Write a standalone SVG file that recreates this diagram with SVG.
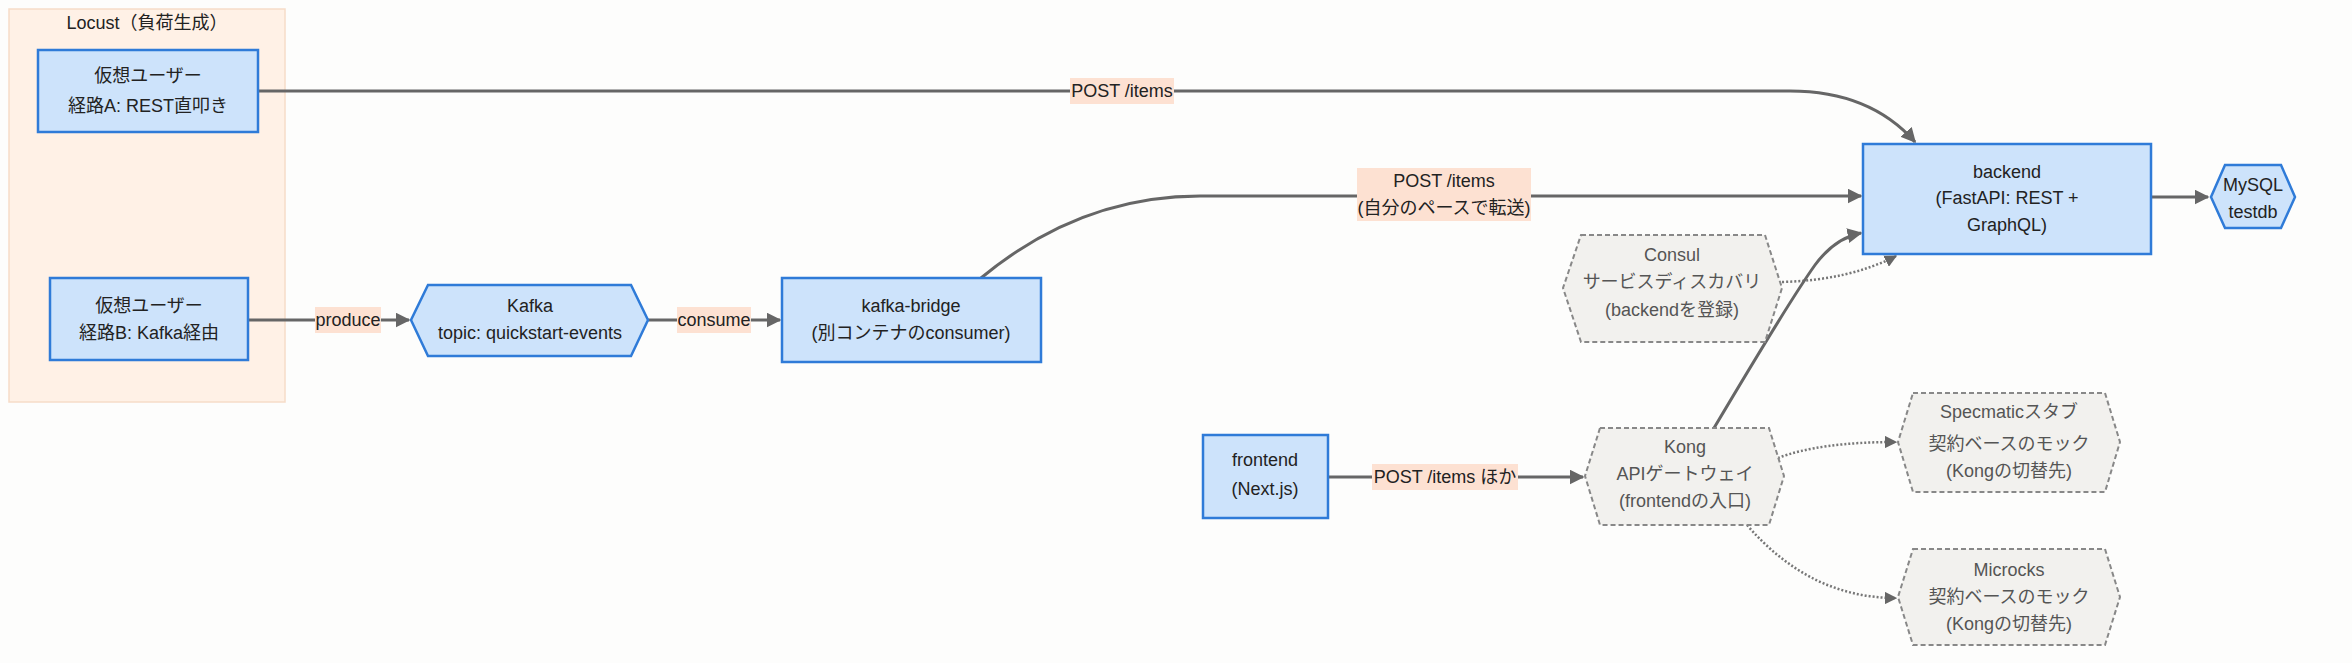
<svg xmlns="http://www.w3.org/2000/svg" width="2352" height="663" viewBox="0 0 2352 663">
<style>
text{font-family:"Liberation Sans","Noto Sans CJK JP",sans-serif;font-size:18px;fill:#222;text-anchor:middle;dominant-baseline:central}
.b{fill:#cde3fb;stroke:#2f7bd8;stroke-width:2.5}
.g{fill:#f2f1ee;stroke:#888;stroke-width:2;stroke-dasharray:5 3}
.g+text,.gt{fill:#555}
.e{fill:none;stroke:#666;stroke-width:3}
.d{fill:none;stroke:#777;stroke-width:2.5;stroke-dasharray:2 2}
.lb{fill:#fde1d2}
</style>
<defs>
<marker id="a" viewBox="0 0 10 10" refX="9" refY="5" markerWidth="5" markerHeight="5" orient="auto"><path d="M0,0L10,5L0,10z" fill="#666"/></marker>
</defs>
<rect width="2352" height="663" fill="#fdfdfc"/>
<g id="locust">
<rect x="9" y="9" width="276" height="393" fill="#fff1e6" stroke="#f6dcc8" stroke-width="1.5"/>
<text x="147" y="23">Locust（負荷生成）</text>
</g>
<g id="connectors">
<path class="e" d="M258,91 H1790 Q1870,91 1915,142" marker-end="url(#a)"/>
<path class="e" d="M248,320 H409" marker-end="url(#a)"/>
<path class="e" d="M648,320 H780" marker-end="url(#a)"/>
<path class="e" d="M981,278 Q1080,196 1200,196 H1861" marker-end="url(#a)"/>
<path class="e" d="M2151,197 H2208" marker-end="url(#a)"/>
<path class="d" d="M1782,282 Q1850,280 1896,256" marker-end="url(#a)"/>
<path class="e" d="M1714,428 Q1790,300 1815,265 Q1835,238 1861,233" marker-end="url(#a)"/>
<path class="e" d="M1328,477 H1583" marker-end="url(#a)"/>
<path class="d" d="M1778,458 Q1820,442 1896,442" marker-end="url(#a)"/>
<path class="d" d="M1747,525 Q1810,598 1896,598" marker-end="url(#a)"/>
<rect class="lb" x="1070" y="78" width="104" height="26"/><text x="1122" y="91">POST /items</text>
<rect class="lb" x="315" y="307" width="66" height="26"/><text x="348" y="320">produce</text>
<rect class="lb" x="677" y="307" width="74" height="26"/><text x="714" y="320">consume</text>
<rect class="lb" x="1357" y="168" width="174" height="53"/><text x="1444" y="181">POST /items</text><text x="1444" y="208">(自分のペースで転送)</text>
<rect class="lb" x="1372" y="464" width="146" height="26"/><text x="1445" y="477">POST /items ほか</text>
</g>
<g id="userA"><rect class="b" x="38" y="50" width="220" height="82"/><text x="148" y="76">仮想ユーザー</text><text x="148" y="106">経路A: REST直叩き</text></g>
<g id="userB"><rect class="b" x="50" y="278" width="198" height="82"/><text x="149" y="306">仮想ユーザー</text><text x="149" y="333">経路B: Kafka経由</text></g>
<g id="kafka"><path class="b" d="M428,285 H631 L648,320 L631,356 H428 L411,320 Z"/><text x="530" y="306">Kafka</text><text x="530" y="333">topic: quickstart-events</text></g>
<g id="bridge"><rect class="b" x="782" y="278" width="259" height="84"/><text x="911" y="306">kafka-bridge</text><text x="911" y="333">(別コンテナのconsumer)</text></g>
<g id="backend"><rect class="b" x="1863" y="144" width="288" height="110"/><text x="2007" y="172">backend</text><text x="2007" y="198">(FastAPI: REST +</text><text x="2007" y="225">GraphQL)</text></g>
<g id="mysql"><path class="b" d="M2225,165 H2281 L2295,197 L2281,228 H2225 L2211,197 Z"/><text x="2253" y="185">MySQL</text><text x="2253" y="212">testdb</text></g>
<g id="consul"><path class="g" d="M1581,235 H1765 L1782,288 L1765,342 H1581 L1563,288 Z"/><text class="gt" x="1672" y="255">Consul</text><text class="gt" x="1672" y="282">サービスディスカバリ</text><text class="gt" x="1672" y="310">(backendを登録)</text></g>
<g id="frontend"><rect class="b" x="1203" y="435" width="125" height="83"/><text x="1265" y="460">frontend</text><text x="1265" y="489">(Next.js)</text></g>
<g id="kong"><path class="g" d="M1600,428 H1769 L1784,476 L1769,525 H1600 L1585,476 Z"/><text class="gt" x="1685" y="447">Kong</text><text class="gt" x="1685" y="474">APIゲートウェイ</text><text class="gt" x="1685" y="501">(frontendの入口)</text></g>
<g id="specmatic"><path class="g" d="M1913,393 H2105 L2120,442 L2105,492 H1913 L1898,442 Z"/><text class="gt" x="2009" y="412">Specmaticスタブ</text><text class="gt" x="2009" y="444">契約ベースのモック</text><text class="gt" x="2009" y="471">(Kongの切替先)</text></g>
<g id="microcks"><path class="g" d="M1913,549 H2105 L2120,597 L2105,645 H1913 L1898,597 Z"/><text class="gt" x="2009" y="570">Microcks</text><text class="gt" x="2009" y="597">契約ベースのモック</text><text class="gt" x="2009" y="624">(Kongの切替先)</text></g>
</svg>
